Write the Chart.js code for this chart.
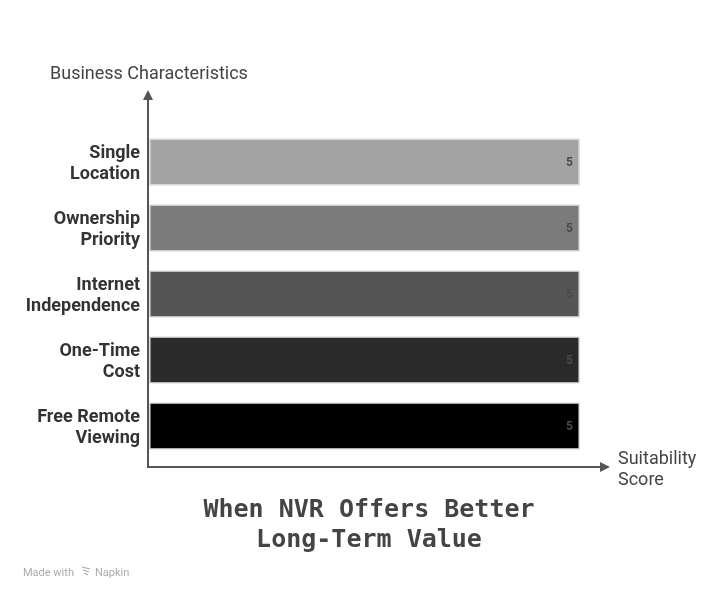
<!DOCTYPE html>
<html lang="en">
<head>
  <meta charset="UTF-8" />
  <title>When NVR Offers Better Long-Term Value</title>
  <script src="https://cdn.jsdelivr.net/npm/chart.js"></script>
  <style>
    body { margin: 0; background: #fff; }
    #wrap { width: 727px; height: 600px; }
  </style>
</head>
<body>
  <div id="wrap"><canvas id="chart" width="727" height="600"></canvas></div>
  <script>
    // data
    const categories = [
      ["Single", "Location"],
      ["Ownership", "Priority"],
      ["Internet", "Independence"],
      ["One-Time", "Cost"],
      ["Free Remote", "Viewing"]
    ];
    const scores = [5, 5, 5, 5, 5];
    const barColors = ["#a3a3a3", "#7b7b7b", "#555555", "#2a2a2a", "#000000"];
    const titleLines = ["When NVR Offers Better", "Long-Term Value"];
    const yAxisTitle = "Business Characteristics";
    const xAxisTitle = ["Suitability", "Score"];

    const sans = "Roboto, 'Noto Sans', sans-serif";

    // value labels at the right end of each bar
    const valueLabels = {
      id: "valueLabels",
      afterDatasetsDraw(chart) {
        const ctx = chart.ctx;
        const meta = chart.getDatasetMeta(0);
        ctx.save();
        ctx.font = "bold 12px " + sans;
        ctx.fillStyle = "#4a4a4a";
        ctx.textAlign = "right";
        ctx.textBaseline = "middle";
        meta.data.forEach((bar, i) => {
          ctx.fillText(String(scores[i]), bar.x - 7, bar.y + 1);
        });
        ctx.restore();
      }
    };

    // axis arrows, axis titles, chart title, footer
    const decorations = {
      id: "decorations",
      afterDraw(chart) {
        const ctx = chart.ctx;
        const area = chart.chartArea;
        const x0 = area.left - 1;
        const yBase = area.bottom + 8;
        ctx.save();
        ctx.strokeStyle = "#555";
        ctx.fillStyle = "#555";
        ctx.lineWidth = 2;
        // vertical axis
        ctx.beginPath();
        ctx.moveTo(x0, yBase + 1);
        ctx.lineTo(x0, 98);
        ctx.stroke();
        ctx.beginPath();
        ctx.moveTo(x0, 90);
        ctx.lineTo(x0 - 5, 100);
        ctx.lineTo(x0 + 5, 100);
        ctx.closePath();
        ctx.fill();
        // horizontal axis
        ctx.beginPath();
        ctx.moveTo(x0 - 1, yBase);
        ctx.lineTo(601, yBase);
        ctx.stroke();
        ctx.beginPath();
        ctx.moveTo(610, yBase);
        ctx.lineTo(600, yBase - 5);
        ctx.lineTo(600, yBase + 5);
        ctx.closePath();
        ctx.fill();

        // axis titles
        ctx.fillStyle = "#444";
        ctx.font = "18px " + sans;
        ctx.textAlign = "left";
        ctx.textBaseline = "middle";
        ctx.fillText(yAxisTitle, 50, 74);
        ctx.fillText(xAxisTitle[0], 618, 459);
        ctx.fillText(xAxisTitle[1], 618, 480);

        // title
        ctx.fillStyle = "#444";
        ctx.font = "bold 25px 'DejaVu Sans Mono', 'Liberation Mono', monospace";
        ctx.textAlign = "center";
        ctx.fillText(titleLines[0], 369, 510);
        ctx.fillText(titleLines[1], 369, 540);

        // footer
        ctx.fillStyle = "#aaa";
        ctx.font = "11px " + sans;
        ctx.textAlign = "left";
        ctx.fillText("Made with", 23, 573);
        ctx.strokeStyle = "#aaa";
        ctx.lineWidth = 1.2;
        for (let k = 0; k < 3; k++) {
          ctx.beginPath();
          ctx.moveTo(82 + k, 567 + k * 3);
          ctx.lineTo(90 - k, 569 + k * 3);
          ctx.stroke();
        }
        ctx.fillText("Napkin", 95, 573);
        ctx.restore();
      }
    };

    new Chart(document.getElementById("chart"), {
      type: "bar",
      data: {
        labels: categories,
        datasets: [{
          data: scores,
          backgroundColor: barColors,
          borderColor: "#dedede",
          borderWidth: 1.5,
          borderSkipped: false,
          barPercentage: 0.72,
          categoryPercentage: 1
        }]
      },
      options: {
        indexAxis: "y",
        responsive: false,
        animation: false,
        layout: { padding: { top: 129, bottom: 141, left: 0, right: 147 } },
        plugins: {
          legend: { display: false },
          tooltip: { enabled: false }
        },
        scales: {
          x: { display: false, min: 0, max: 5 },
          y: {
            afterFit(scale) { scale.width = 149; },
            border: { display: false },
            grid: { display: false, drawTicks: false },
            ticks: {
              padding: 9,
              labelOffset: 2,
              color: "#333",
              font: { family: sans, size: 18, weight: "bold", lineHeight: 1.15 }
            }
          }
        }
      },
      plugins: [valueLabels, decorations]
    });
  </script>
</body>
</html>
